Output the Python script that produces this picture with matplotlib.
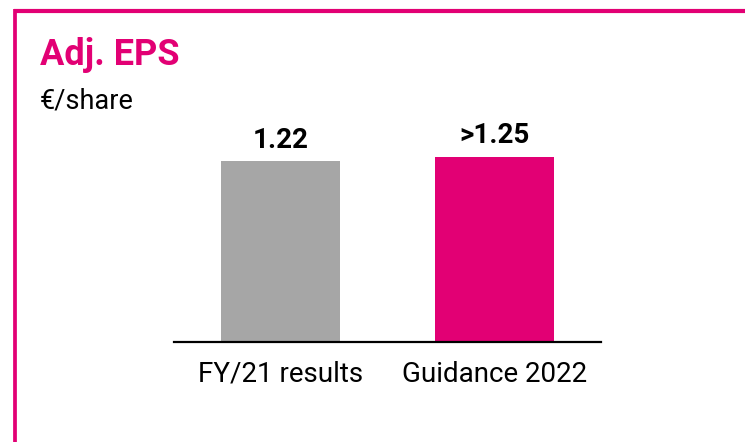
import matplotlib.pyplot as plt
from matplotlib.lines import Line2D

MAGENTA = "#E20074"
GREY = "#A6A6A6"

categories = ["FY/21 results", "Guidance 2022"]
values = [1.22, 1.25]
value_labels = ["1.22", ">1.25"]
colors = [GREY, MAGENTA]

plt.rcParams["font.family"] = ["Roboto", "DejaVu Sans"]

W, H = 745, 442
fig = plt.figure(figsize=(W / 100, H / 100), dpi=100)

# frame: only left and top edges
fig.add_artist(Line2D([15.3 / W, 15.3 / W], [0, 1 - 8.5 / H], color=MAGENTA, lw=2.7,
                      transform=fig.transFigure, solid_capstyle="butt"))
fig.add_artist(Line2D([13.5 / W, 1], [1 - 10.5 / H, 1 - 10.5 / H], color=MAGENTA, lw=3,
                      transform=fig.transFigure, solid_capstyle="butt"))

fig.text(40 / W, 1 - 65 / H, "Adj. EPS", color=MAGENTA, fontsize=26, fontweight="bold",
         ha="left", va="baseline")
fig.text(40 / W, 1 - 108 / H, "€/share", color="black", fontsize=19.5,
         ha="left", va="baseline")

ax = fig.add_axes([174 / W, 100 / H, 427 / W, 1.4 * 148.4 / H])
x = range(len(categories))
bars = ax.bar(x, values, width=0.556, color=colors)
ax.set_xlim(-0.5, 1.5)
ax.set_ylim(0, 1.4)

for b, lab in zip(bars, value_labels):
    ax.annotate(lab, (b.get_x() + b.get_width() / 2, b.get_height()),
                xytext=(0, 9.5), textcoords="offset points",
                ha="center", va="baseline", fontsize=20, fontweight="bold")

ax.set_xticks(list(x))
ax.set_xticklabels(categories, fontsize=20)
ax.tick_params(axis="x", length=0, pad=13.5)
ax.set_yticks([])
for s in ["left", "right", "top"]:
    ax.spines[s].set_visible(False)
ax.spines["bottom"].set_linewidth(1.6)
ax.patch.set_alpha(0)

fig.savefig("out.png", dpi=100)
